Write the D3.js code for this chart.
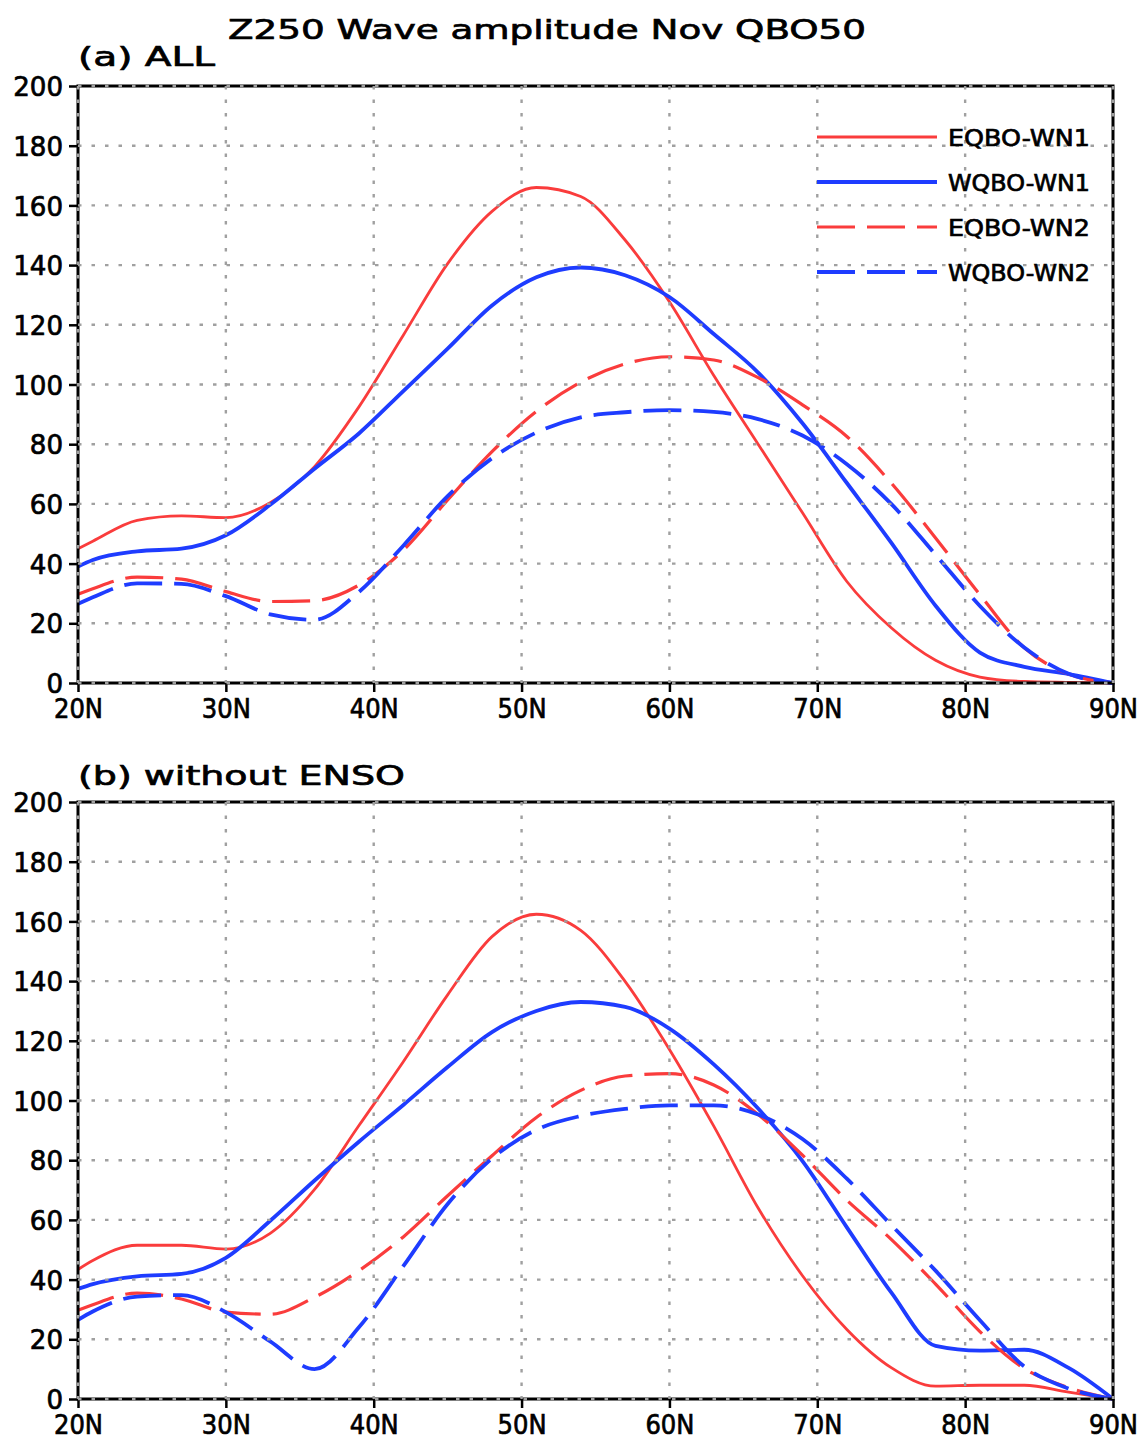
<!DOCTYPE html>
<html>
<head>
<meta charset="utf-8">
<title>Z250 Wave amplitude Nov QBO50</title>
<style>
body { margin: 0; background: #fff; }
svg { display: block; }
text { font-family: "DejaVu Sans", sans-serif; fill: #000; stroke: #000; stroke-width: 0.7px; }
.grid line { stroke: #a0a0a0; stroke-width: 2.4; stroke-dasharray: 3.5 10; }
.frame { fill: none; stroke: #000; stroke-width: 3; }
.tick line { stroke: #000; stroke-width: 2.5; }
</style>
</head>
<body>
<script src="https://cdnjs.cloudflare.com/ajax/libs/d3/7.8.5/d3.min.js"></script>
<script>
// latitude grid (deg N)
const lats = [20, 21, 24, 27, 30, 33, 36, 39, 42, 45, 48, 51, 54, 57, 60, 63, 66, 69, 72, 75, 78, 81, 84, 87, 90];

// (a) ALL
const allEqboWn1 = [45, 47.5, 54.5, 56, 55.4, 60.4, 72.5, 92.5, 116.5, 140.5, 158, 166, 163, 148.4, 127.7, 103, 80, 57, 34, 18.5, 7.6, 2, 0.5, 0.2, 0];
const allWqboWn1 = [39, 41.2, 44.1, 45, 49.5, 59.7, 71.8, 83.6, 97.8, 112, 126.5, 135.9, 139.2, 136.6, 129.3, 116.9, 104, 87, 67, 47, 25.9, 10.2, 5.4, 3, 0];
const allEqboWn2 = [29.7, 31.6, 35.5, 34.8, 30.6, 27.3, 27.6, 32.8, 44.5, 61.3, 77.5, 91, 100.8, 106.9, 109.3, 108.2, 102.3, 93.2, 82.6, 67, 48.6, 29.6, 11.8, 3, 0];
const allWqboWn2 = [26.5, 28.7, 33.4, 33.2, 29.1, 23, 21.2, 30.5, 46, 62.6, 75.3, 83.9, 89, 90.7, 91.4, 90.8, 88.4, 82.9, 73.3, 60, 43, 25.8, 11.9, 3.1, 0];

// (b) without ENSO
const noEnsoEqboWn1 = [43.4, 46.4, 51.5, 51.5, 50.2, 55.5, 70.2, 91.6, 113, 135.4, 154.9, 162.4, 157, 139.9, 117.1, 91.4, 64, 41.3, 23.3, 10.5, 4.3, 4.6, 4.6, 2.3, 0];
const noEnsoWqboWn1 = [36.9, 38.5, 41.1, 41.9, 47.3, 59.7, 73.2, 86.2, 98.5, 111.2, 122.9, 130, 133, 131.4, 124.1, 112.1, 97.3, 79.7, 57.5, 35.7, 17.8, 16.2, 16.5, 10.4, 0];
const noEnsoEqboWn2 = [29.7, 31.6, 35.5, 33.5, 29.1, 28.4, 34.1, 43, 54.3, 68.1, 81.5, 94.3, 103.4, 108.2, 109, 105.2, 95.3, 81.7, 66.6, 53.5, 38.5, 22.6, 10.2, 3.8, 0];
const noEnsoWqboWn2 = [26.5, 29.3, 34.3, 34.8, 29.1, 19.3, 10, 24, 44.5, 65.3, 80.6, 90.2, 94.8, 97.2, 98.4, 98.4, 95.3, 87.1, 73.8, 58.3, 43, 26.4, 10.9, 3.5, 0];

const seriesNames = ["EQBO-WN1", "WQBO-WN1", "EQBO-WN2", "WQBO-WN2"];
const yTicks = [0, 20, 40, 60, 80, 100, 120, 140, 160, 180, 200];
const xTicks = [20, 30, 40, 50, 60, 70, 80, 90];

const RED = "rgb(250,60,60)", BLUE = "rgb(30,60,255)";
const styles = [
  { color: RED, width: 2.8, dash: null },
  { color: BLUE, width: 3.8, dash: null },
  { color: RED, width: 3.2, dash: "38 12" },
  { color: BLUE, width: 3.8, dash: "38 12" }
];

const W = 1147, H = 1441;
const svg = d3.select("body").append("svg").attr("width", W).attr("height", H);

const x = d3.scaleLinear().domain([20, 90]).range([78, 1113]);

svg.append("text")
  .attr("x", 228).attr("y", 39)
  .attr("font-size", 27)
  .attr("textLength", 638).attr("lengthAdjust", "spacingAndGlyphs")
  .text("Z250 Wave amplitude Nov QBO50");

function panel(top, bottom, label, labelY, labelLen, data, withLegend) {
  const y = d3.scaleLinear().domain([0, 200]).range([bottom, top]);
  const g = svg.append("g");

  g.append("text")
    .attr("x", 78).attr("y", labelY)
    .attr("font-size", 27)
    .attr("textLength", labelLen).attr("lengthAdjust", "spacingAndGlyphs")
    .text(label);

  const line = d3.line()
    .x((d, i) => x(lats[i]))
    .y(d => y(d))
    .curve(d3.curveMonotoneX);

  data.forEach((vals, k) => {
    const s = styles[k];
    g.append("path")
      .datum(vals)
      .attr("d", line)
      .attr("fill", "none")
      .attr("stroke", s.color)
      .attr("stroke-width", s.width)
      .attr("stroke-linejoin", "round")
      .attr("stroke-dasharray", s.dash);
  });

  // axes
  const yAxis = g.append("g")
    .attr("transform", `translate(${x(20)},0)`)
    .call(d3.axisLeft(y).tickValues(yTicks).tickSize(9).tickPadding(6));
  yAxis.select(".domain").remove();
  yAxis.selectAll("text")
    .attr("font-size", 26)
    .attr("fill", "#000")
    .attr("dy", "0.37em")
    .attr("textLength", d => String(d).length * 16.6)
    .attr("lengthAdjust", "spacingAndGlyphs");

  const xAxis = g.append("g")
    .attr("transform", `translate(0,${bottom})`)
    .call(d3.axisBottom(x).tickValues(xTicks).tickSize(9).tickFormat(d => d + "N"));
  xAxis.select(".domain").remove();
  xAxis.selectAll("text")
    .attr("font-size", 26)
    .attr("fill", "#000")
    .attr("y", 35)
    .attr("dy", 0)
    .attr("textLength", 49)
    .attr("lengthAdjust", "spacingAndGlyphs");

  g.append("rect").attr("class", "frame")
    .attr("x", x(20)).attr("y", top)
    .attr("width", x(90) - x(20)).attr("height", bottom - top);

  const grid = g.append("g").attr("class", "grid");
  grid.selectAll(".h").data(yTicks).join("line")
    .attr("x1", x(20)).attr("x2", x(90))
    .attr("y1", d => y(d)).attr("y2", d => y(d));
  grid.selectAll(".v").data(xTicks).join("line")
    .attr("x1", d => x(d)).attr("x2", d => x(d))
    .attr("y1", top).attr("y2", bottom);

  if (withLegend) {
    const lg = g.append("g");
    seriesNames.forEach((name, k) => {
      const s = styles[k];
      const ly = top + 51 + k * 45;
      lg.append("line")
        .attr("x1", 817).attr("x2", 937)
        .attr("y1", ly).attr("y2", ly)
        .attr("stroke", s.color)
        .attr("stroke-width", s.width)
        .attr("stroke-dasharray", s.dash);
      lg.append("text")
        .attr("x", 948).attr("y", ly + 9)
        .attr("font-size", 23)
        .attr("fill", s.color)
        .attr("stroke", s.color)
        .attr("textLength", 142).attr("lengthAdjust", "spacingAndGlyphs")
        .text(name);
    });
  }
}

panel(86, 683, "(a) ALL", 66, 137,
  [allEqboWn1, allWqboWn1, allEqboWn2, allWqboWn2], true);
panel(802, 1399, "(b) without ENSO", 785, 327,
  [noEnsoEqboWn1, noEnsoWqboWn1, noEnsoEqboWn2, noEnsoWqboWn2], false);
</script>
</body>
</html>
